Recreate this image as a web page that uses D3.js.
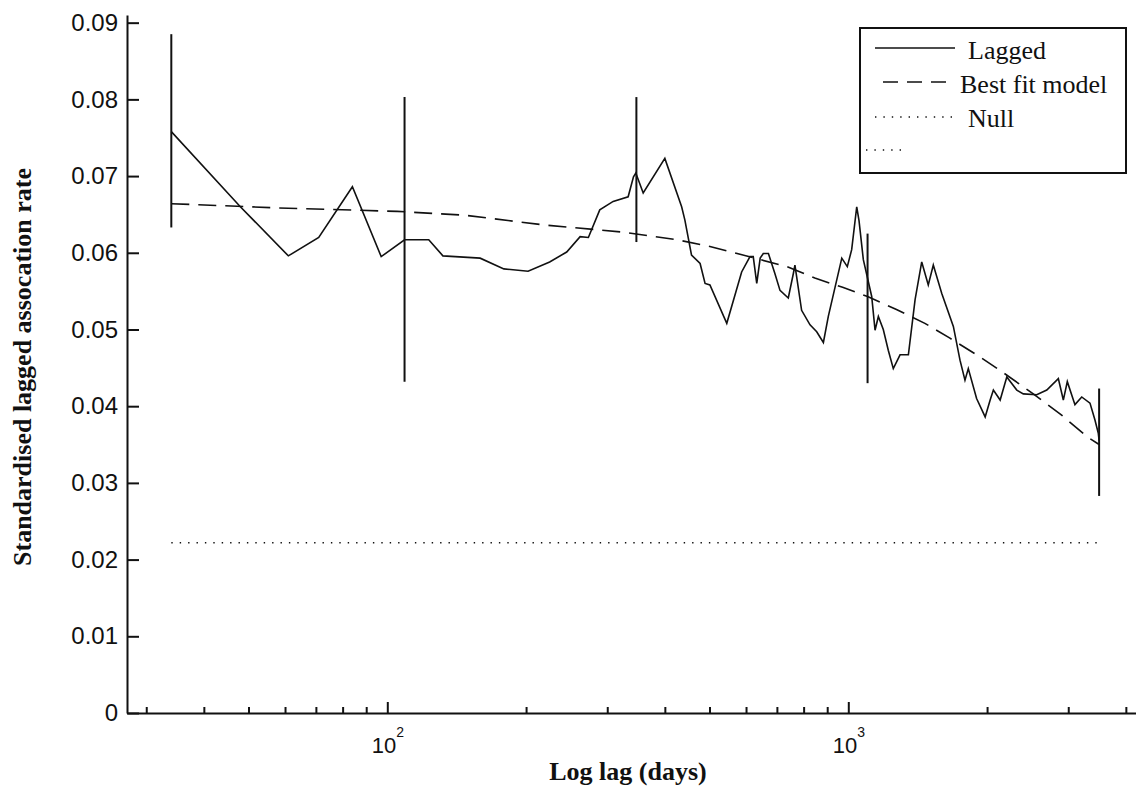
<!DOCTYPE html>
<html>
<head>
<meta charset="utf-8">
<script src="https://cdn.jsdelivr.net/npm/d3@7"></script>
<style>
  body { margin: 0; background: #fff; }
</style>
</head>
<body>
<div class="chart"></div>
<script>

var lags = [34, 48, 61, 71, 84, 97, 109, 123, 132, 159, 179, 202, 225, 245, 262, 273, 289, 309, 333, 342,
    346, 359, 400, 435, 442, 457, 477, 489, 501, 545, 587, 612, 622, 633, 644, 654, 671, 693, 711, 741,
    760, 766, 792, 826, 854, 883, 905, 968, 995, 1017, 1043, 1055, 1078, 1124, 1143, 1162, 1191, 1221, 1252, 1295,
    1350, 1396, 1443, 1491, 1529, 1595, 1690, 1747, 1791, 1821, 1898, 1981, 2031, 2064, 2135, 2207, 2320, 2397, 2563, 2695,
    2855, 2927, 2986, 3102, 3209, 3344, 3428, 3485, 3500];
var lagged = [0.0758, 0.0660, 0.0596, 0.0620, 0.0686, 0.0595, 0.0617, 0.0617, 0.0596, 0.0593, 0.0579, 0.0576, 0.0588, 0.0601, 0.0621, 0.0620, 0.0656, 0.0667, 0.0673, 0.0699,
    0.0704, 0.0678, 0.0723, 0.0660, 0.0643, 0.0597, 0.0586, 0.0560, 0.0558, 0.0508, 0.0575, 0.0595, 0.0595, 0.0560, 0.0593, 0.0599, 0.0599, 0.0573, 0.0551, 0.0541,
    0.0573, 0.0584, 0.0525, 0.0506, 0.0497, 0.0483, 0.0517, 0.0593, 0.0582, 0.0604, 0.0660, 0.0642, 0.0591, 0.0543, 0.0499, 0.0517, 0.0500, 0.0473, 0.0449, 0.0467,
    0.0467, 0.0539, 0.0588, 0.0558, 0.0584, 0.0547, 0.0504, 0.0460, 0.0434, 0.0449, 0.0410, 0.0386, 0.0408, 0.0421, 0.0408, 0.0438, 0.0421, 0.0416, 0.0415, 0.0421,
    0.0436, 0.0408, 0.0432, 0.0402, 0.0412, 0.0404, 0.0382, 0.0365, 0.0355];

var fitLags = [34, 61, 105, 147, 221, 324, 425, 494, 574, 736, 846, 972, 1101, 1272, 1466, 1658, 1922, 2177, 2506, 2893, 3300, 3500];
var fitValues = [0.0664, 0.0658, 0.0654, 0.0649, 0.0636, 0.0627, 0.0617, 0.0609, 0.0599, 0.0582, 0.0567, 0.0555, 0.0543, 0.0526, 0.0508, 0.0489, 0.0465, 0.0443, 0.0417, 0.0389, 0.0360, 0.0350];

var errLags = [34, 109, 347, 1101, 3500];
var errLow = [0.0633, 0.0432, 0.0614, 0.0430, 0.0283];
var errHigh = [0.0885, 0.0803, 0.0803, 0.0625, 0.0423];

var nullValue = 0.0222;

var yTicks = [0, 0.01, 0.02, 0.03, 0.04, 0.05, 0.06, 0.07, 0.08, 0.09];
var xMajorTicks = [100, 1000];
var xMinorTicks = [30, 40, 50, 60, 70, 80, 90, 200, 300, 400, 500, 600, 700, 800, 900, 2000, 3000, 4000];

var legendNames = ["Lagged", "Best fit model", "Null", ""];

var width = 1136;
var height = 796;
var ink = "#111";

var svg = d3.select('.chart')
    .append('svg')
    .attr('width', width)
    .attr('height', height);

var scaleX = d3.scaleLog()
    .domain([27.25, 4208])
    .range([127, 1136]);

var scaleY = d3.scaleLinear()
    .domain([0, 0.091])
    .range([713, 15]);

// axes, ticks point inward like matlab
var axisY = d3.axisLeft(scaleY)
    .tickValues(yTicks)
    .tickSize(-12)
    .tickSizeOuter(0)
    .tickPadding(9)
    .tickFormat(d => d === 0 ? "0" : d3.format(".2f")(d));

var gY = svg.append("g")
    .attr("transform", "translate(127,0)")
    .call(axisY);

gY.attr("font-family", "'Liberation Sans', Arial, sans-serif")
    .attr("font-size", 24);
gY.selectAll("text").attr("fill", ink);
gY.selectAll("line, path").attr("stroke", ink).attr("stroke-width", 2);

var axisXMinor = d3.axisBottom(scaleX)
    .tickValues(xMinorTicks)
    .tickSize(-6)
    .tickSizeOuter(0)
    .tickFormat("");

var gXMinor = svg.append("g")
    .attr("transform", "translate(0,713)")
    .call(axisXMinor);
gXMinor.selectAll("line, path").attr("stroke", ink).attr("stroke-width", 2);

var axisXMajor = d3.axisBottom(scaleX)
    .tickValues(xMajorTicks)
    .tickSize(-11)
    .tickSizeOuter(0)
    .tickFormat("");

var gXMajor = svg.append("g")
    .attr("transform", "translate(0,713)")
    .call(axisXMajor);
gXMajor.select(".domain").remove();
gXMajor.selectAll("line").attr("stroke", ink).attr("stroke-width", 2);

gXMajor.selectAll(".tick")
    .append("text")
    .attr("y", 40)
    .attr("text-anchor", "middle")
    .attr("fill", ink)
    .attr("font-family", "'Liberation Sans', Arial, sans-serif")
    .attr("font-size", 22)
    .each(function (d) {
        var t = d3.select(this);
        t.append("tspan").text("10");
        t.append("tspan")
            .attr("dy", -16)
            .attr("font-size", 14)
            .text(Math.round(Math.log10(d)));
    });

// axis titles
svg.append("text")
    .attr("x", 628)
    .attr("y", 780)
    .attr("text-anchor", "middle")
    .attr("font-family", "'Liberation Serif', 'Times New Roman', serif")
    .attr("font-weight", "bold")
    .attr("font-size", 26)
    .attr("fill", ink)
    .text("Log lag (days)");

svg.append("text")
    .attr("transform", "translate(31,367) rotate(-90)")
    .attr("text-anchor", "middle")
    .attr("font-family", "'Liberation Serif', 'Times New Roman', serif")
    .attr("font-weight", "bold")
    .attr("font-size", 26)
    .attr("fill", ink)
    .text("Standardised lagged assocation rate");

// null line
svg.append("line")
    .attr("x1", scaleX(lags[0]))
    .attr("x2", scaleX(lags[lags.length - 1]))
    .attr("y1", scaleY(nullValue))
    .attr("y2", scaleY(nullValue))
    .attr("stroke", ink)
    .attr("stroke-width", 1.4)
    .attr("stroke-dasharray", "1.4,7");

// best fit
var fitData = fitLags.map((d, i) => ({ lag: d, value: fitValues[i] }));
var line = d3.line()
    .x(d => scaleX(d.lag))
    .y(d => scaleY(d.value));

svg.append("path")
    .datum(fitData)
    .attr("fill", "none")
    .attr("stroke", ink)
    .attr("stroke-width", 1.6)
    .attr("stroke-dasharray", "18,9")
    .attr("d", line);

// lagged rate
var laggedData = lags.map((d, i) => ({ lag: d, value: lagged[i] }));
svg.append("path")
    .datum(laggedData)
    .attr("fill", "none")
    .attr("stroke", ink)
    .attr("stroke-width", 1.6)
    .attr("stroke-linejoin", "miter")
    .attr("d", line);

// error bars
svg.selectAll(".err")
    .data(errLags)
    .enter()
    .append("line")
    .attr("class", "err")
    .attr("x1", d => scaleX(d))
    .attr("x2", d => scaleX(d))
    .attr("y1", (d, i) => scaleY(errLow[i]))
    .attr("y2", (d, i) => scaleY(errHigh[i]))
    .attr("stroke", ink)
    .attr("stroke-width", 2);

// legend
var legend = svg.append("g");
legend.append("rect")
    .attr("x", 860)
    .attr("y", 28)
    .attr("width", 266)
    .attr("height", 145)
    .attr("fill", "#fff")
    .attr("stroke", ink)
    .attr("stroke-width", 2);

var legendRows = [
    { x1: 875, x2: 955, y: 48, dash: null, tx: 968, ty: 59 },
    { x1: 883, x2: 955, y: 82, dash: "15,9", tx: 960, ty: 93 },
    { x1: 875, x2: 955, y: 117, dash: "1.4,7", tx: 968, ty: 127 },
    { x1: 866, x2: 907, y: 150, dash: "1.4,7", tx: 968, ty: 160 }
];

legendRows.forEach((r, i) => {
    legend.append("line")
        .attr("x1", r.x1)
        .attr("x2", r.x2)
        .attr("y1", r.y)
        .attr("y2", r.y)
        .attr("stroke", ink)
        .attr("stroke-width", r.dash === "1.4,7" ? 1.4 : 1.6)
        .attr("stroke-dasharray", r.dash);
    legend.append("text")
        .attr("x", r.tx)
        .attr("y", r.ty)
        .attr("font-family", "'Liberation Serif', 'Times New Roman', serif")
        .attr("font-size", 26)
        .attr("fill", ink)
        .text(legendNames[i]);
});

</script>
</body>
</html>
